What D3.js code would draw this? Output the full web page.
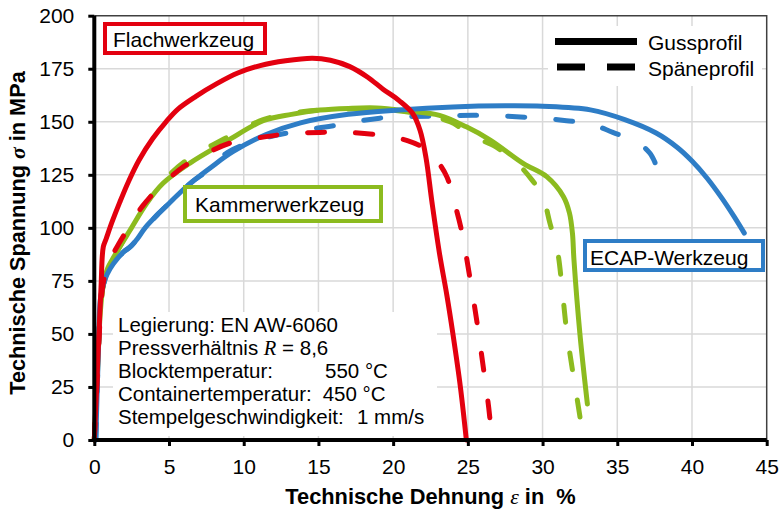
<!DOCTYPE html>
<html><head><meta charset="utf-8">
<script src="https://cdn.jsdelivr.net/npm/d3@7"></script>
<style>
html,body{margin:0;padding:0;background:#fff;}
svg{display:block;font-family:"Liberation Sans",Arial,sans-serif;}
</style></head>
<body><svg id="chart" width="784" height="513"></svg>
<script>
// ---- data ----
const xTicks = [0,5,10,15,20,25,30,35,40,45];
const yTicks = [0,25,50,75,100,125,150,175,200];

// Flachwerkzeug – Gussprofil (solid red)
const flachGussX = [0,0.2,0.45,0.6,0.8,1.2,1.7,2.3,3.0,3.9,4.8,5.6,6.8,8.2,9.6,11.1,12.8,14.6,15.8,17.1,18.3,19.3,20.4,21.3,21.8,22.2,22.6,23.1,23.6,24.0,24.5,24.9];
const flachGussY = [0,32,72,91,95,103,112,122,132,142,150,156,162,168,173,176.5,178.8,180,179,176,171,165.5,160,154,146,133,112,88,68,50,25,0];

// Flachwerkzeug – Späneprofil (dashed red)
const flachSpaeneX = [0,0.2,0.4,0.6,1.0,1.6,2.2,3.2,4.5,6.0,7.5,9.1,11.5,13.3,15.1,17.0,19.3,21.0,22.2,23.0,23.6,24.1,24.6,25.1,25.6,26.0,26.4,26.6];
const flachSpaeneY = [0,30,58,74,84,92,99,110,120,129,135,140,143,144.5,145,145,143.5,141,137,131,124,112,98,78,56,36,15,1];

// Kammerwerkzeug – Gussprofil (solid green)
const kammerGussX = [0,0.2,0.4,0.6,0.9,1.2,1.7,2.4,3.5,4.6,6.4,8.9,11.3,13.2,15.1,17.0,18.9,21.0,23.1,24.9,26.5,28.7,30.3,31.4,31.8,32.0,32.1,32.5,33.0];
const kammerGussY = [0,30,60,73,81,85,91,99,111.5,121,130.5,141,150.5,153.5,155.5,156.3,156.5,155,153,147.6,141.4,130.4,124,114.7,107,97.4,85,50,17];

// Kammerwerkzeug – Späneprofil (dashed green)
const kammerSpaeneX = [0,0.2,0.4,0.6,0.9,1.2,1.7,2.4,3.5,4.6,6.2,8.7,11.3,13.2,15.0,17.0,19.0,21.5,23.8,25.4,26.9,28.3,29.3,30.0,30.5,31.0,31.3,31.6,32.0,32.3,32.7];
const kammerSpaeneY = [0,30,60,73,81,85,91,100,112,122,132,142,151,154,155.5,156,156,154,150,143,138,130.5,122.5,115,102,89,72,52,33,20,2];

// ECAP-Werkzeug – Gussprofil (solid blue)
const ecapGussX = [0.1,0.2,0.3,0.4,0.6,0.85,1.27,1.95,2.4,2.9,3.4,4.2,5.0,5.8,6.6,7.8,9.3,11.5,13.8,17.0,20.4,24.0,27.5,30.0,33.2,35.5,37.6,39.0,40.0,41.0,42.0,42.8,43.5];
const ecapGussY = [0,25,48,66,73,78,83,88.6,91,95,100,106,111.5,117,122,128.5,136,144,149.5,153.5,155.6,157,157.5,157.3,155.6,151,144.7,138,131.5,123.5,114,105.5,97.5];

// ECAP-Werkzeug – Späneprofil (dashed blue)
const ecapSpaeneX = [0.1,0.2,0.3,0.4,0.6,0.85,1.27,1.95,2.4,2.9,3.4,4.2,5.0,5.8,6.6,7.8,8.9,11.0,13.1,15.9,19.1,22.9,25.9,29.2,31.6,33.2,34.7,36.3,37.2,37.8];
const ecapSpaeneY = [0,25,48,66,73,78,83,88.6,91,95,100,106,111.5,117,122,128,135.5,141.5,145,148,151.7,152.7,153,152,150.5,149,145,140.5,135,126];

const seriesNames = ["Gussprofil","Späneprofil"];
const toolNames = ["Flachwerkzeug","Kammerwerkzeug","ECAP-Werkzeug"];
const infoLines = ["Legierung: EN AW-6060","Pressverhältnis ","Blocktemperatur:","Containertemperatur:","Stempelgeschwindigkeit:"];
const infoValues = ["","","550 °C","450 °C","1 mm/s"];

// ---- drawing ----
const RED = "#e3000f", GREEN = "#8cbb1f", BLUE = "#2e7dc6";
const svg = d3.select("#chart");
const L = 94.3, R = 766.7, T = 15.7, B = 440;
const x = d3.scaleLinear().domain([0,45]).range([L,R]);
const y = d3.scaleLinear().domain([0,200]).range([B,T]);

// gridlines
const grid = svg.append("g");
grid.selectAll("line.v").data(xTicks.filter(d=>d>0&&d<45)).join("line")
  .attr("x1",d=>x(d)).attr("x2",d=>x(d)).attr("y1",T).attr("y2",B)
  .attr("stroke","#d9d9d9").attr("stroke-width",1.5);
grid.selectAll("line.h").data(yTicks.filter(d=>d>0&&d<200)).join("line")
  .attr("x1",L).attr("x2",R).attr("y1",d=>y(d)).attr("y2",d=>y(d))
  .attr("stroke","#d9d9d9").attr("stroke-width",1.5);
// frame top/right
svg.append("path").attr("d",`M${L},${T}H${R}V${B}`).attr("fill","none")
  .attr("stroke","#404040").attr("stroke-width",1.5);

// white backgrounds (legend, info block)
svg.append("rect").attr("x",548).attr("y",26).attr("width",214).attr("height",60).attr("fill","#fff");
svg.append("rect").attr("x",113).attr("y",312).attr("width",324).attr("height",124).attr("fill","#fff");

// info text
const info = svg.append("g").attr("font-size","20.5px").attr("fill","#000");
infoLines.forEach((t,i)=>{
  const tx = info.append("text").attr("x",118).attr("y",332+i*23.1).text(t);
  if(i===1){
    tx.append("tspan").attr("font-family","'Liberation Serif',serif").attr("font-style","italic").text("R");
    tx.append("tspan").text(" = 8,6");
  }
});
const valX = [0,0,325,322.7,357];
infoValues.forEach((t,i)=>{ if(t) info.append("text").attr("x",valX[i]).attr("y",332+i*23.1).text(t); });

// curves
const line = d3.line().x(d=>x(d[0])).y(d=>y(d[1])).curve(d3.curveCatmullRom.alpha(0.5));
const zip = (a,b)=>a.map((v,i)=>[v,b[i]]);
const curves = [
  {xs:kammerSpaeneX, ys:kammerSpaeneY, c:GREEN, dash:true},
  {xs:ecapSpaeneX, ys:ecapSpaeneY, c:BLUE, dash:true},
  {xs:kammerGussX, ys:kammerGussY, c:GREEN, dash:false},
  {xs:ecapGussX, ys:ecapGussY, c:BLUE, dash:false},
  {xs:flachGussX, ys:flachGussY, c:RED, dash:false},
  {xs:flachSpaeneX, ys:flachSpaeneY, c:RED, dash:true},
];
svg.append("g").selectAll("path").data(curves).join("path")
  .attr("d",d=>line(zip(d.xs,d.ys)))
  .attr("fill","none").attr("stroke",d=>d.c).attr("stroke-width",5)
  .attr("stroke-linejoin","round").attr("stroke-linecap","round")
  .attr("stroke-dasharray",d=>d.dash?"17,31":null);

// axes
const ax = svg.append("g").attr("transform",`translate(0,${B})`)
  .call(d3.axisBottom(x).tickValues(xTicks).tickSize(6).tickPadding(13).tickFormat(d3.format("d")));
const ay = svg.append("g").attr("transform",`translate(${L},0)`)
  .call(d3.axisLeft(y).tickValues(yTicks).tickSize(6).tickPadding(14).tickFormat(d3.format("d")));
[ax,ay].forEach(g=>{
  g.select(".domain").attr("stroke","#000").attr("stroke-width",4);
  g.selectAll(".tick line").attr("stroke","#000").attr("stroke-width",3);
  g.selectAll(".tick text").attr("font-size","21px").attr("font-family","'Liberation Sans',Arial,sans-serif").attr("fill","#000");
});
ay.select(".domain").attr("d",`M0,${B+2}V${T}`);
ax.select(".domain").attr("d",`M${L-2},0H${R}`);

// axis titles
svg.append("text").attr("x",(L+R)/2).attr("y",504).attr("text-anchor","middle")
  .attr("font-size","21.8px").attr("font-weight","bold").style("white-space","pre")
  .call(t=>{ t.append("tspan").text("Technische Dehnung ");
             t.append("tspan").attr("font-family","'Liberation Serif',serif").attr("font-style","italic").attr("font-weight","normal").text("ε");
             t.append("tspan").text(" in  %"); });
svg.append("text").attr("transform",`translate(25,233) rotate(-90)`).attr("text-anchor","middle")
  .attr("font-size","21.7px").attr("font-weight","bold").style("white-space","pre")
  .call(t=>{ t.append("tspan").text("Technische Spannung ");
             t.append("tspan").attr("font-family","'Liberation Serif',serif").attr("font-style","italic").text("σ");
             t.append("tspan").text(" in MPa"); });

// legend
const lg = svg.append("g");
lg.append("line").attr("x1",555).attr("x2",637).attr("y1",41.5).attr("y2",41.5).attr("stroke","#000").attr("stroke-width",7);
lg.append("line").attr("x1",557).attr("x2",637).attr("y1",67).attr("y2",67).attr("stroke","#000").attr("stroke-width",7).attr("stroke-dasharray","28,22");
lg.append("text").attr("x",648).attr("y",50).attr("font-size","21px").text(seriesNames[0]);
lg.append("text").attr("x",648).attr("y",76).attr("font-size","21px").text(seriesNames[1]);

// annotation boxes
const boxes = [
  {t:toolNames[0], c:RED, x:105, y:24, w:160, h:29, tx:113, ty:47},
  {t:toolNames[1], c:GREEN, x:185, y:187, w:196, h:34, tx:195, ty:212},
  {t:toolNames[2], c:BLUE, x:585, y:241, w:178, h:29, tx:590, ty:265},
];
boxes.forEach(b=>{
  svg.append("rect").attr("x",b.x).attr("y",b.y).attr("width",b.w).attr("height",b.h)
    .attr("fill","#fff").attr("stroke",b.c).attr("stroke-width",4);
  svg.append("text").attr("x",b.tx).attr("y",b.ty).attr("font-size","21px").text(b.t);
});
</script></body></html>
